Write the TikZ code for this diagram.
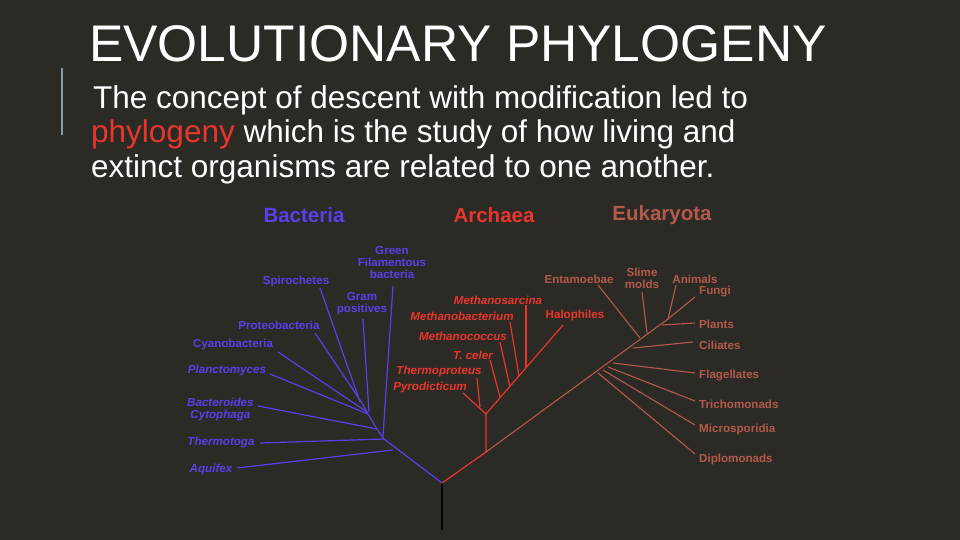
\documentclass[tikz,border=0pt]{standalone}
\usepackage{fontspec}
\setmainfont{Liberation Sans}
\begin{document}
\begin{tikzpicture}[x=1pt,y=-1pt,
  bl/.style={draw=bcol,line width=1.2pt},
  rl/.style={draw=rcol,line width=1.2pt},
  el/.style={draw=ecol,line width=1.1pt},
  bt/.style={text=bcol,font=\fontsize{11.6}{12}\selectfont\bfseries,align=center,inner sep=0pt},
  rt/.style={text=rcol,font=\fontsize{11.6}{12}\selectfont\bfseries\itshape,align=center,inner sep=0pt},
  et/.style={text=ecol,font=\fontsize{11.6}{12}\selectfont\bfseries,align=center,inner sep=0pt},
  hd/.style={font=\fontsize{20.5}{22}\selectfont\bfseries,inner sep=0pt}]
\definecolor{bg}{HTML}{2C2A24}
\definecolor{bcol}{HTML}{5A3FEA}
\definecolor{rcol}{HTML}{E8362E}
\definecolor{ecol}{HTML}{B25A4C}
\definecolor{barc}{HTML}{8A9BA8}
\fill[bg] (0,0) rectangle (960,540);
\useasboundingbox (0,0) rectangle (960,540);
\draw[barc,line width=2pt] (62,68) -- (62,135);
\node[anchor=base west,inner sep=0pt,text=white,font=\fontsize{51.5}{54}\selectfont] (title) at (89,62) {EVOLUTIONARY PHYLOGENY};
\node[anchor=base west,inner sep=0pt,text=white,font=\fontsize{31.5}{34}\selectfont] (l1) at (93,109) {The concept of descent with modification led to};
\node[anchor=base west,inner sep=0pt,text=white,font=\fontsize{31.5}{34}\selectfont] (l2) at (91,143) {\textcolor{rcol}{phylogeny} which is the study of how living and};
\node[anchor=base west,inner sep=0pt,text=white,font=\fontsize{31.5}{34}\selectfont] (l3) at (91,178) {extinct organisms are related to one another.};
% headers
\node[hd,text=bcol] (hb) at (304,215) {Bacteria};
\node[hd,text=rcol] (ha) at (494,215) {Archaea};
\node[hd,text=ecol] (he) at (662,215) {Eukaryota};
% coordinates
\coordinate (root) at (442,483);
\coordinate (bot) at (442,530);
\coordinate (b0) at (384,439);
\coordinate (ba) at (393,450);
\coordinate (bb) at (377,429);
\coordinate (bc) at (368,414);
\coordinate (bd) at (362,403);
\coordinate (a0) at (486,452);
\coordinate (a1) at (486,414);
\coordinate (a2) at (563,325);
\coordinate (e1) at (668,319);
\draw[black,line width=1.3pt] (root) -- (bot);
% bacteria
\draw[bl] (root) -- (b0) -- (bb) -- (bc) -- (bd) -- (360,400);
\draw[bl] (ba) -- (237,468);
\draw[bl] (b0) -- (260,443);
\draw[bl] (bb) -- (258,406);
\draw[bl] (bc) -- (270,374);
\draw[bl] (367,412) -- (278,352);
\draw[bl] (bd) -- (315,333);
\draw[bl] (360,402) -- (320,288);
\draw[bl] (369,412) -- (363,319);
\draw[bl] (383,436) -- (393,286);
\node[bt] (gf) at (392,263) {Green\\Filamentous\\bacteria};
\node[bt] (sp) at (296,281) {Spirochetes};
\node[bt] (gp) at (362,304) {Gram\\positives};
\node[bt] (pr) at (279,325) {Proteobacteria};
\node[bt] (cy) at (233,344) {Cyanobacteria};
\node[bt,font=\fontsize{11.6}{12}\selectfont\bfseries\itshape] (pl) at (227,370) {Planctomyces};
\node[bt,align=left,anchor=west,font=\fontsize{11.6}{12}\selectfont\bfseries\itshape] (bcy) at (187,409) {Bacteroides\\\ Cytophaga};
\node[bt,font=\fontsize{11.6}{12}\selectfont\bfseries\itshape] (th) at (221,442) {Thermotoga};
\node[bt,font=\fontsize{11.6}{12}\selectfont\bfseries\itshape] (aq) at (211,469) {Aquifex};
% archaea
\draw[rl] (root) -- (a0) -- (a1) -- (a2);
\draw[rl] (a1) -- (463,393);
\draw[rl] (480,407) -- (477,378);
\draw[rl] (500,397) -- (490,360);
\draw[rl] (510,387) -- (500,342);
\draw[rl] (519,376) -- (510,322);
\draw[rl] (526,368) -- (526,305);
\node[rt] (ms) at (498,300) {Methanosarcina};
\node[rt] (mb) at (462,316) {Methanobacterium};
\node[rt,font=\fontsize{11.6}{12}\selectfont\bfseries] (ha2) at (575,315) {Halophiles};
\node[rt] (mc) at (463,336) {Methanococcus};
\node[rt] (tc) at (473,355) {T. celer};
\node[rt] (tp) at (439,371) {Thermoproteus};
\node[rt] (py) at (430,387) {Pyrodicticum};
% eukaryota
\draw[el] (a0) -- (e1);
\draw[el] (598,373) -- (695,454);
\draw[el] (603,370) -- (695,425);
\draw[el] (608,367) -- (695,401);
\draw[el] (613,363) -- (695,373);
\draw[el] (633,348) -- (693,342);
\draw[el] (662,325) -- (695,323);
\draw[el] (e1) -- (695,297);
\draw[el] (e1) -- (676,285);
\draw[el] (647,333) -- (642,292);
\draw[el] (640,338) -- (598,285);
\node[et] (en) at (579,279) {Entamoebae};
\node[et] (sm) at (642,278) {Slime\\molds};
\node[et] (an) at (695,279) {Animals};
\node[et] (fu) at (715,292) {Fungi};
\node[et,anchor=west] (plt) at (699,324) {Plants};
\node[et,anchor=west] (ci) at (699,345) {Ciliates};
\node[et,anchor=west] (fl) at (699,376) {Flagellates};
\node[et,anchor=west] (tr) at (699,404) {Trichomonads};
\node[et,anchor=west] (mi) at (699,429) {Microsporidia};
\node[et,anchor=west] (di) at (699,459) {Diplomonads};
\end{tikzpicture}
\end{document}
